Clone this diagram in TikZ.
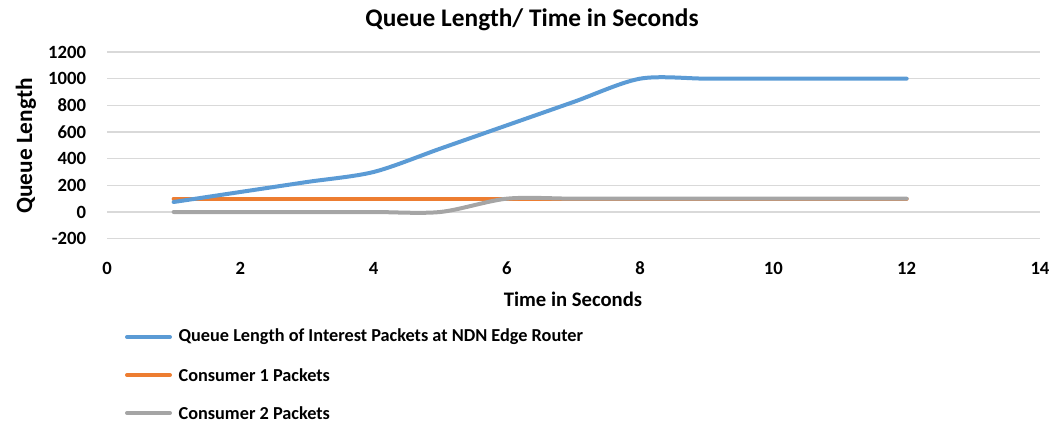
\documentclass[tikz,border=0pt]{standalone}
\usepackage{fontspec}
\setmainfont{Carlito}
\usepackage{xcolor}
\usepackage{tikz}
\usetikzlibrary{positioning}

\definecolor{qblue}{HTML}{5B9BD5}
\definecolor{corange}{HTML}{ED7D31}
\definecolor{cgray}{HTML}{A5A5A5}
\definecolor{gridgray}{HTML}{D9D9D9}

\begin{document}
\begin{tikzpicture}[
    x=0.75pt, y=-0.75pt,
    every node/.style={font=\fontsize{13.7}{16}\selectfont\bfseries, inner sep=1pt},
    title/.style={font=\fontsize{15.5}{18}\selectfont\bfseries},
    gridline/.style={draw=gridgray, line width=1pt},
    series/.style={line width=3pt, line cap=round, line join=round},
    ticklabel/.style={font=\fontsize{14}{16}\selectfont\bfseries}
]
\useasboundingbox (0,0) rectangle (1064,425);

% title and axis titles
\node[title, font=\fontsize{19}{22}\selectfont\bfseries] (charttitle) at (532,20) {Queue Length/ Time in Seconds};
\node[title] (xtitle) at (573,299) {Time in Seconds};
\node[title, rotate=90, font=\fontsize{17.5}{20}\selectfont\bfseries] (ytitle) at (26,146) {Queue Length};

% plot area in data units
\begin{scope}[shift={(80.25pt,-159pt)}, x=49.98pt, y=0.1pt]
    \foreach \v in {-200,0,...,1200} {
        \draw[gridline] (0,\v) -- (14,\v);
        \node[ticklabel, anchor=east] (yt\v) at (-0.29,\v) {\v};
    }
    \foreach \t in {0,2,...,14}
        \node[ticklabel] (xt\t) at (\t,-420) {\t};

    \draw[series, corange] (1,100) -- (12,100);
    \draw[series, cgray] plot[smooth, tension=0.5] coordinates
        {(1,0) (2,0) (3,0) (4,0) (5,0) (6,100) (7,100) (8,100) (9,100) (10,100) (11,100) (12,100)};
    \draw[series, qblue] plot[smooth, tension=0.5] coordinates
        {(1,75) (2,150) (3,225) (4,300) (5,475) (6,650) (7,825) (8,1000) (9,1000) (10,1000) (11,1000) (12,1000)};
\end{scope}

% legend
\coordinate (l1a) at (127,337);
\coordinate (l1b) at (170,337);
\coordinate (l2a) at (127,375);
\coordinate (l2b) at (170,375);
\coordinate (l3a) at (127,413);
\coordinate (l3b) at (170,413);
\draw[series, qblue] (l1a) -- (l1b);
\draw[series, corange] (l2a) -- (l2b);
\draw[series, cgray] (l3a) -- (l3b);
\node[anchor=west] (leg1) at (177,337) {Queue Length of Interest Packets at NDN Edge Router};
\node[anchor=west] (leg2) at (177,375) {Consumer 1 Packets};
\node[anchor=west] (leg3) at (177,413) {Consumer 2 Packets};
\end{tikzpicture}
\end{document}
